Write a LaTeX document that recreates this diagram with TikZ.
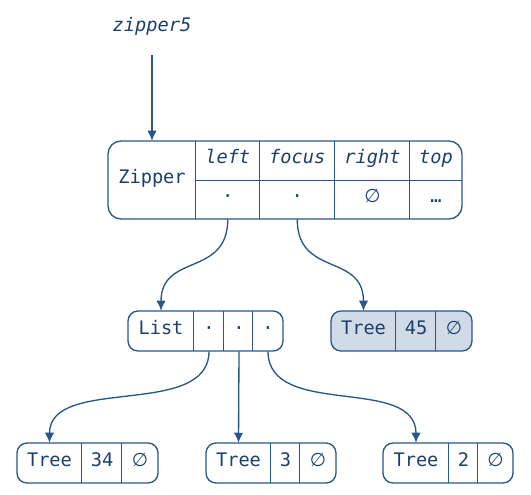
\documentclass[tikz,border=0pt]{standalone}
\usepackage{fontspec}
\setmonofont{DejaVu Sans Mono}
\newfontfamily\symfont{DejaVu Sans}
\usetikzlibrary{arrows.meta,fit,calc}
\definecolor{ln}{RGB}{40,86,140}
\definecolor{tx}{RGB}{28,64,108}
\definecolor{hl}{RGB}{209,219,231}
\newcommand{\nul}{{\symfont ∅}}
\begin{document}
\begin{tikzpicture}[x=0.75pt,y=-0.75pt,
  font=\ttfamily\fontsize{14pt}{16pt}\selectfont,
  rec/.style={draw=ln,line width=1pt,rounded corners=7.5pt,inner sep=0pt},
  cell/.style 2 args={inner sep=0pt,text=tx,text height=0.56em,text depth=0.1em,
    minimum width=#1,minimum height=#2,anchor=center},
  div/.style={draw=ln,line width=1pt},
  link/.style={draw=ln,line width=1pt,-{Latex[length=7.5pt,width=7pt]}}]
\useasboundingbox (0,0) rectangle (531,494);

% label
\node[cell={0pt}{0pt},font=\ttfamily\itshape\fontsize{14pt}{16pt}\selectfont] (lbl) at (152,28) {zipper5};
\coordinate (lblend) at (152,55);

% Zipper record
\node[rec,rounded corners=9.75pt,fit={(108,141)(462,219)}] (zip) {};
\node[cell={66pt}{58.5pt}] (zname) at (152,180) {Zipper};
\node[cell={47.6pt}{29.6pt}] (hleft) at (227.75,160.75) {\itshape left};
\node[cell={56.6pt}{29.6pt}] (hfocus) at (297.25,160.75) {\itshape focus};
\node[cell={56.25pt}{29.6pt}] (hright) at (372.5,160.75) {\itshape right};
\node[cell={39pt}{29.6pt}] (htop) at (436,160.75) {\itshape top};
\node[cell={47.6pt}{28.9pt}] (zleft) at (227.75,199.75) {·};
\node[cell={56.6pt}{28.9pt}] (zfocus) at (297.25,199.75) {·};
\node[cell={56.25pt}{28.9pt}] (zright) at (372.5,199.75) {\nul};
\node[cell={39pt}{28.9pt}] (ztop) at (436,199.75) {…};
\draw[div] (hleft.north west) -- (zleft.south west);
\draw[div] (hfocus.north west) -- (zfocus.south west);
\draw[div] (hright.north west) -- (zright.south west);
\draw[div] (htop.north west) -- (ztop.south west);
\draw[div] (hleft.south west) -- (htop.south east);

% List record
\node[rec,fit={(128,311)(283,351)}] (lst) {};
\node[cell={49.5pt}{30pt}] (lname) at (161,331) {List};
\node[cell={22.5pt}{30pt}] (la) at (209,331) {·};
\node[cell={22.5pt}{30pt}] (lb) at (239,331) {·};
\node[cell={22.5pt}{30pt}] (lc) at (268,331) {·};
\draw[div] (la.north west) -- (la.south west);
\draw[div] (lb.north west) -- (lb.south west);
\draw[div] (lc.north west) -- (lc.south west);

% Tree 45 (highlighted)
\node[rec,fill=hl,fit={(331,311)(472,351)}] (t45) {};
\node[cell={48.75pt}{30pt}] (t45n) at (363.5,331) {Tree};
\node[cell={30pt}{30pt}] (t45v) at (416,331) {45};
\node[cell={27pt}{30pt}] (t45r) at (454,331) {\nul};
\draw[div] (t45v.north west) -- (t45v.south west);
\draw[div] (t45r.north west) -- (t45r.south west);

% Tree 34
\node[rec,fit={(17,443)(158,483)}] (t34) {};
\node[cell={48.75pt}{30pt}] (t34n) at (49.5,463) {Tree};
\node[cell={30pt}{30pt}] (t34v) at (102,463) {34};
\node[cell={27pt}{30pt}] (t34r) at (140,463) {\nul};
\draw[div] (t34v.north west) -- (t34v.south west);
\draw[div] (t34r.north west) -- (t34r.south west);

% Tree 3
\node[rec,fit={(206,443)(336,483)}] (t3) {};
\node[cell={48.75pt}{30pt}] (t3n) at (238.5,463) {Tree};
\node[cell={21.75pt}{30pt}] (t3v) at (285.5,463) {3};
\node[cell={27pt}{30pt}] (t3r) at (318,463) {\nul};
\draw[div] (t3v.north west) -- (t3v.south west);
\draw[div] (t3r.north west) -- (t3r.south west);

% Tree 2
\node[rec,fit={(383,443)(513,483)}] (t2) {};
\node[cell={49.5pt}{30pt}] (t2n) at (416,463) {Tree};
\node[cell={21.75pt}{30pt}] (t2v) at (463.5,463) {2};
\node[cell={26.25pt}{30pt}] (t2r) at (495.5,463) {\nul};
\draw[div] (t2v.north west) -- (t2v.south west);
\draw[div] (t2r.north west) -- (t2r.south west);

% connectors
\draw[link] (lblend) -- (zname.north);
\draw[link] (zleft.south) .. controls ($(zleft.south)+(0,58)$) and ($(lname.north)+(0,-58)$) .. (lname.north);
\draw[link] (zfocus.south) .. controls ($(zfocus.south)+(0,58)$) and ($(t45n.north)+(0,-58)$) .. (t45n.north);
\draw[link] (la.south) .. controls ($(la.south)+(0,68)$) and ($(t34n.north)+(0,-68)$) .. (t34n.north);
\draw[link] (lb.south) -- (t3n.north);
\draw[link] (lc.south) .. controls ($(lc.south)+(0,68)$) and ($(t2n.north)+(0,-68)$) .. (t2n.north);
\end{tikzpicture}
\end{document}
